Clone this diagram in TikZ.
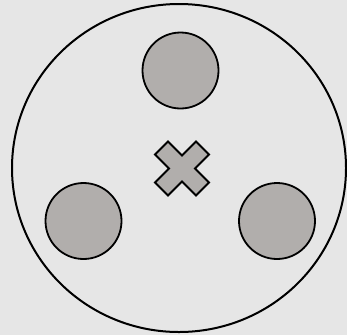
\documentclass[tikz,border=0pt]{standalone}
\definecolor{bggray}{RGB}{230,230,230}
\definecolor{holegray}{RGB}{177,174,172}
\begin{document}
\begin{tikzpicture}[x=1pt,y=-1pt,
  rim/.style={draw,line width=2pt},
  hole/.style={draw,line width=1.8pt,fill=holegray}]
\fill[bggray] (0,0) rectangle (347,335);
\useasboundingbox (0,0) rectangle (347,335);
\draw[rim] (179,168) ellipse (167pt and 164pt);
\foreach \cx/\cy in {180.5/70.5,83.5/221,277/221}
  \draw[hole] (\cx,\cy) circle (38pt);
\draw[hole] (182,168.5) ++(0,-13) -- ++(14,-14) -- ++(13,13) -- ++(-14,14)
  -- ++(14,14) -- ++(-13,13) -- ++(-14,-14) -- ++(-14,14) -- ++(-13,-13)
  -- ++(14,-14) -- ++(-14,-14) -- ++(13,-13) -- cycle;
\end{tikzpicture}
\end{document}
